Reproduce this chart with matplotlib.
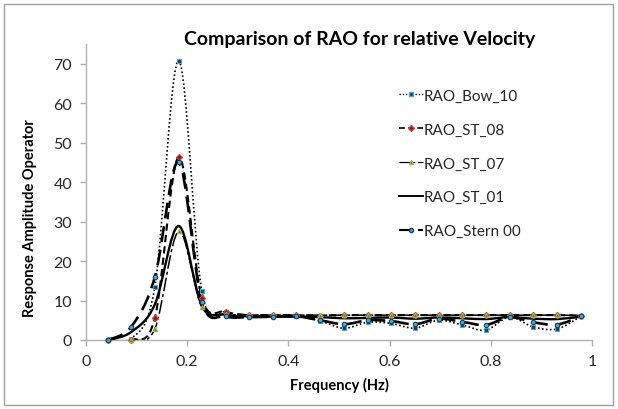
import numpy as np
import matplotlib
matplotlib.use("Agg")
import matplotlib.pyplot as plt
from matplotlib.path import Path
from matplotlib.patches import PathPatch, Rectangle
from matplotlib.lines import Line2D

plt.rcParams['font.family'] = ['Lato', 'DejaVu Sans']

#Frequency values (Hz)
Frequencies = [0.043, 0.089, 0.136, 0.183, 0.229, 0.276, 0.323, 0.370, 0.416, 0.463, 0.510,
               0.557, 0.603, 0.650, 0.697, 0.744, 0.790, 0.837, 0.884, 0.931, 0.978]

#RAO values for each location
RAO_Bow_10 = [0, 0.2, 13.4, 70.8, 12.3, 7.0, 6.0, 6.2, 6.1, 4.8, 3.0,
              4.5, 4.2, 3.0, 5.0, 3.8, 2.5, 5.8, 3.3, 2.8, 6.0]
RAO_ST_08 = [0, 0, 5.5, 46.3, 10.6, 7.2, 6.3, 6.3, 6.3, 6.2, 6.3,
             6.3, 6.3, 6.3, 6.3, 6.3, 6.3, 6.3, 6.3, 6.3, 6.2]
RAO_ST_07 = [0, 0, 2.8, 27.5, 8.3, 6.5, 6.4, 6.3, 6.3, 6.3, 6.3,
             6.3, 6.3, 6.3, 6.3, 6.3, 6.3, 6.3, 6.3, 6.3, 6.2]
RAO_ST_01 = [0, 2.0, 9.0, 28.9, 8.7, 6.4, 6.0, 5.9, 5.9, 5.8, 5.5,
             5.6, 5.7, 5.4, 5.7, 5.5, 5.3, 5.8, 5.4, 5.3, 5.9]
RAO_Stern_00 = [0, 3.3, 15.9, 45.1, 9.6, 6.0, 5.8, 5.9, 6.0, 5.0, 4.0,
                5.0, 4.8, 4.0, 5.4, 4.6, 3.8, 5.8, 4.5, 3.9, 6.0]

names = ["RAO_Bow_10", "RAO_ST_08", "RAO_ST_07", "RAO_ST_01", "RAO_Stern 00"]
series = [RAO_Bow_10, RAO_ST_08, RAO_ST_07, RAO_ST_01, RAO_Stern_00]
dashes = [(1, 1.4), (3.5, 2), (9, 2, 2, 2), None, (6, 3)]
widths = [1.2, 1.5, 1.1, 1.7, 1.9]
markers = ['s', 'D', '^', None, 'o']
mfaces = ['#1F3864', '#8B1A1A', '#6B7F2A', 'black', '#4BACC6']
medges = ['#4BACC6', '#C0504D', '#9BBB59', 'black', '#1F3864']


#Smoothed line through the points (like the excel "smoothed line")
def SmoothPath(x, y):
    x = np.asarray(x, float)
    y = np.asarray(y, float)
    verts = [(x[0], y[0])]
    codes = [Path.MOVETO]
    n = len(x)
    for i in range(n - 1):
        p0 = i - 1 if i > 0 else i
        p3 = i + 2 if i + 2 < n else i + 1
        c1 = (x[i] + (x[i+1] - x[p0]) / 6, y[i] + (y[i+1] - y[p0]) / 6)
        c2 = (x[i+1] - (x[p3] - x[i]) / 6, y[i+1] - (y[p3] - y[i]) / 6)
        verts += [c1, c2, (x[i+1], y[i+1])]
        codes += [Path.CURVE4] * 3
    return Path(verts, codes)


fig = plt.figure(figsize=(6.18, 4.10), dpi=100)
ax = fig.add_axes([86/618, 1-341/410, (592-86)/618, (341-45)/410])

handles = []
for i in range(len(series)):
    ls = 'solid' if dashes[i] is None else (0, dashes[i])
    patch = PathPatch(SmoothPath(Frequencies, series[i]), facecolor='none', edgecolor='black',
                      linewidth=widths[i], linestyle=ls, transform=ax.transData, zorder=3)
    patch.set_clip_path(ax.patch)
    ax.add_patch(patch)
    if markers[i] is not None:
        ax.plot(Frequencies, series[i], linestyle='none', marker=markers[i], markersize=3.2,
                markerfacecolor=mfaces[i], markeredgecolor=medges[i], markeredgewidth=0.8,
                zorder=4, clip_on=False)
    handles.append(Line2D([0], [0], color='black', linewidth=widths[i] * 0.8, linestyle=ls,
                          marker=markers[i], markersize=3.0, markerfacecolor=mfaces[i],
                          markeredgecolor=medges[i]))

#Format the axes
ax.set_xlim(0, 1)
ax.set_ylim(0, 75)
ax.set_xticks([0, 0.2, 0.4, 0.6, 0.8, 1])
ax.set_xticklabels(['0', '0.2', '0.4', '0.6', '0.8', '1'])
ax.set_yticks([0, 10, 20, 30, 40, 50, 60, 70])
for s in ['top', 'right']:
    ax.spines[s].set_visible(False)
for s in ['left', 'bottom']:
    ax.spines[s].set_color('#B0B0B0')
    ax.spines[s].set_linewidth(1.0)
ax.tick_params(axis='both', direction='out', length=4, width=1.0, color='#B0B0B0',
               labelsize=11.5, labelcolor='#262626', pad=6)

#Labels and title
fig.text(360/618, 1-40/410, "Comparison of RAO for relative Velocity", ha='center', va='center',
         fontsize=14, fontweight='bold', color='black')
fig.text(339/618, 1-385/410, "Frequency (Hz)", ha='center', va='center',
         fontsize=10.5, fontweight='bold', color='black')
fig.text(30/618, 1-218/410, "Response Amplitude Operator", ha='center', va='center',
         rotation=90, fontsize=10.5, fontweight='bold', color='black')

#Legend
leg = ax.legend(handles, names, loc='upper left', bbox_to_anchor=(385/618, 1-76/410),
                bbox_transform=fig.transFigure, frameon=False, fontsize=11,
                handlelength=1.6, handletextpad=0.05, labelspacing=1.3)
for t in leg.get_texts():
    t.set_color('#262626')

#Chart border
fig.patches.append(Rectangle((4/618, 4/410), 609/618, 401/410, transform=fig.transFigure,
                             fill=False, edgecolor='#A0A0A0', linewidth=1.0))

plt.savefig("out.png", dpi=100)
